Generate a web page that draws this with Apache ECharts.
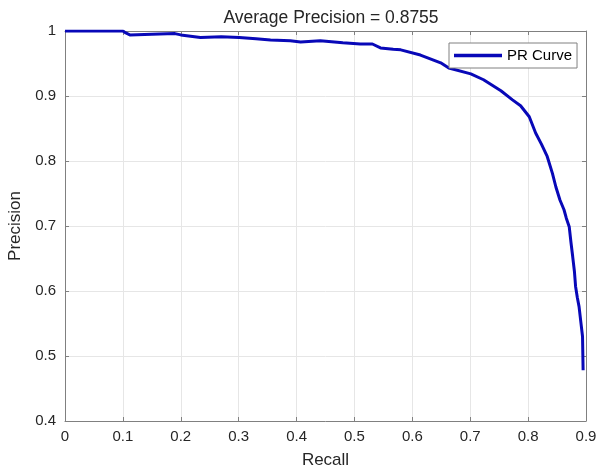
<!DOCTYPE html>
<html>
<head>
<meta charset="utf-8">
<script src="https://cdn.jsdelivr.net/npm/echarts@6/dist/echarts.min.js"></script>
<style>html,body{margin:0;padding:0;background:#fff}#c{width:598px;height:467px}</style>
</head>
<body>
<div id="c"></div>
<script>
const titleText = "Average Precision = 0.8755";
const seriesName = "PR Curve";
const recall = [0, 0.100, 0.105, 0.112, 0.15, 0.19, 0.200, 0.234, 0.27, 0.301, 0.33, 0.355, 0.389, 0.407, 0.441, 0.48, 0.510, 0.531, 0.545, 0.567, 0.580, 0.614, 0.649, 0.663, 0.701, 0.723, 0.753, 0.773, 0.787, 0.802, 0.813, 0.823, 0.833, 0.842, 0.848, 0.855, 0.862, 0.866, 0.871, 0.874, 0.877, 0.880, 0.882, 0.885, 0.888, 0.891, 0.894, 0.895];
const precision = [1, 1, 0.997, 0.994, 0.995, 0.996, 0.994, 0.990, 0.991, 0.990, 0.988, 0.986, 0.985, 0.983, 0.985, 0.982, 0.980, 0.980, 0.974, 0.972, 0.971, 0.963, 0.951, 0.943, 0.934, 0.925, 0.908, 0.894, 0.885, 0.868, 0.843, 0.826, 0.807, 0.781, 0.760, 0.740, 0.725, 0.712, 0.699, 0.675, 0.653, 0.630, 0.607, 0.590, 0.576, 0.553, 0.530, 0.478];

const font = "Liberation Sans, Arial, Helvetica, sans-serif";
const axisCol = "#808080";
const textCol = "#262626";
const chart = echarts.init(document.getElementById('c'), null, {renderer: 'canvas'});
const data = recall.map((r, i) => [r, precision[i]]);
chart.setOption({
  animation: false,
  backgroundColor: '#fff',
  title: {
    text: titleText, left: 326, top: 4, textAlign: 'center',
    textStyle: {fontFamily: font, fontSize: 17.5, fontWeight: 'normal', color: textCol}
  },
  grid: {left: 65, right: 12, top: 31, bottom: 46, containLabel: false, outerBoundsMode: 'none'},
  legend: {
    data: [{name: seriesName, icon: 'rect'}], left: 449, top: 43, orient: 'vertical',
    padding: [5, 5, 5, 5], itemWidth: 48, itemHeight: 3.5,
    backgroundColor: '#fff', borderColor: axisCol, borderWidth: 1, borderRadius: 0,
    textStyle: {fontFamily: font, fontSize: 15, color: '#000'}
  },
  xAxis: [{
    type: 'value', min: 0, max: 0.9, interval: 0.1,
    name: 'Recall', nameLocation: 'middle', nameGap: 31,
    nameTextStyle: {fontFamily: font, fontSize: 17, color: textCol},
    axisLine: {show: true, lineStyle: {color: axisCol, width: 1}},
    axisTick: {show: true, inside: true, length: 4, lineStyle: {color: axisCol}},
    axisLabel: {fontFamily: font, fontSize: 15, color: textCol, margin: 8},
    splitLine: {show: true, lineStyle: {color: '#e6e6e6', width: 1}}
  }, {
    type: 'value', position: 'top', min: 0, max: 0.9, interval: 0.1,
    axisLine: {show: true, onZero: false, lineStyle: {color: axisCol, width: 1}},
    axisTick: {show: true, inside: true, length: 4, lineStyle: {color: axisCol}},
    axisLabel: {show: false}, splitLine: {show: false}
  }],
  yAxis: [{
    type: 'value', min: 0.4, max: 1, interval: 0.1,
    name: 'Precision', nameLocation: 'middle', nameGap: 32,
    nameTextStyle: {fontFamily: font, fontSize: 17, color: textCol},
    axisLine: {show: true, lineStyle: {color: axisCol, width: 1}},
    axisTick: {show: true, inside: true, length: 4, lineStyle: {color: axisCol}},
    axisLabel: {fontFamily: font, fontSize: 15, color: textCol, margin: 9},
    splitLine: {show: true, lineStyle: {color: '#e6e6e6', width: 1}}
  }, {
    type: 'value', position: 'right', min: 0.4, max: 1, interval: 0.1,
    axisLine: {show: true, onZero: false, lineStyle: {color: axisCol, width: 1}},
    axisTick: {show: true, inside: true, length: 4, lineStyle: {color: axisCol}},
    axisLabel: {show: false}, splitLine: {show: false}
  }],
  series: [{
    name: seriesName, type: 'line', xAxisIndex: 0, yAxisIndex: 0,
    data: data, symbol: 'none', showSymbol: false,
    lineStyle: {color: '#0808b8', width: 3},
    itemStyle: {color: '#0808b8'}
  }]
});
</script>
</body>
</html>
